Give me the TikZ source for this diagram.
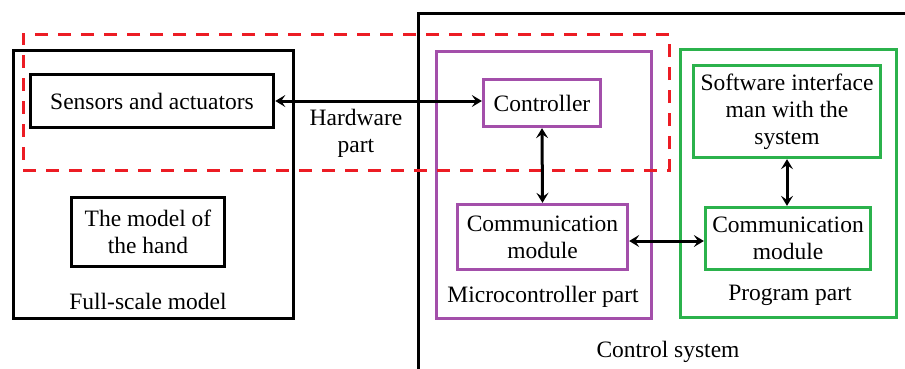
\documentclass[tikz,border=0pt]{standalone}
\usepackage{fontspec}
\setmainfont{Liberation Serif}
\usetikzlibrary{arrows.meta}
\definecolor{mypurple}{HTML}{A34FAA}
\definecolor{mygreen}{HTML}{2BB24C}
\definecolor{myred}{HTML}{EC1C24}
\tikzset{
  box/.style={draw, line width=3.6pt, rectangle, inner sep=0pt, align=center},
  pbox/.style={box, draw=mypurple, line width=3.3pt},
  gbox/.style={box, draw=mygreen, line width=3.3pt},
  lbl/.style={inner sep=0pt, align=center},
  arr/.style={line width=3pt, {Stealth[length=10pt,width=12pt,inset=4pt]}-{Stealth[length=10pt,width=12pt,inset=4pt]}},
  hw/.style={draw=myred, line width=3.3pt, dash pattern=on 13pt off 10pt, rectangle, inner sep=0pt}
}
\begin{document}
\begin{tikzpicture}[x=1pt,y=-1pt,font=\fontsize{23.5}{27}\selectfont]
\useasboundingbox (0,0) rectangle (905,368);
\begin{scope}
\clip (0,0) rectangle (905,368);
% Control system outer box
\node[box, minimum width=500, minimum height=380, anchor=north west] (cs) at (416.5,11.5) {};
\end{scope}
\node[lbl] (cslbl) at (668,352) {Control system};
% Full-scale model
\node[box, minimum width=280, minimum height=268] (fs) at (153.5,184.5) {};
\node[lbl] (fslbl) at (148,301) {Full-scale model};
\node[box, minimum width=243, minimum height=53] (sens) at (152,101) {Sensors and actuators};
\node[box, minimum width=153, minimum height=69] (hand) at (148,232) {The model of\\the hand};
% Microcontroller part
\node[pbox, minimum width=215, minimum height=267] (mc) at (544,185) {};
\node[lbl] (mclbl) at (543,297) {Microcontroller part};
\node[pbox, minimum width=117, minimum height=47] (ctrl) at (542,103) {Controller};
\node[pbox, minimum width=170, minimum height=65] (cmp) at (542.5,237) {Communication\\module};
% Program part
\node[gbox, minimum width=216, minimum height=268] (pp) at (788.5,183.5) {};
\node[lbl] (pplbl) at (790,295) {Program part};
\node[gbox, minimum width=187, minimum height=92] (sw) at (787,111.5) {Software interface\\man with the\\system};
\node[gbox, minimum width=165, minimum height=62] (cmg) at (788,238.5) {Communication\\module};
% Hardware part dashed region
\node[hw, minimum width=646, minimum height=136, anchor=north west] (hwbox) at (21.5,32.5) {};
\node[lbl] (hwlbl) at (356,133) {Hardware\\part};
% Arrows
\draw[arr] (sens.east) -- (sens.east -| ctrl.west);
\draw[arr] (ctrl.south) -- (cmp.north);
\draw[arr] (sw.south) -- (sw.south |- cmg.north);
\draw[arr] ([yshift=-4pt]cmp.east) -- ([yshift=-4pt]cmp.east -| cmg.west);
\end{tikzpicture}
\end{document}
